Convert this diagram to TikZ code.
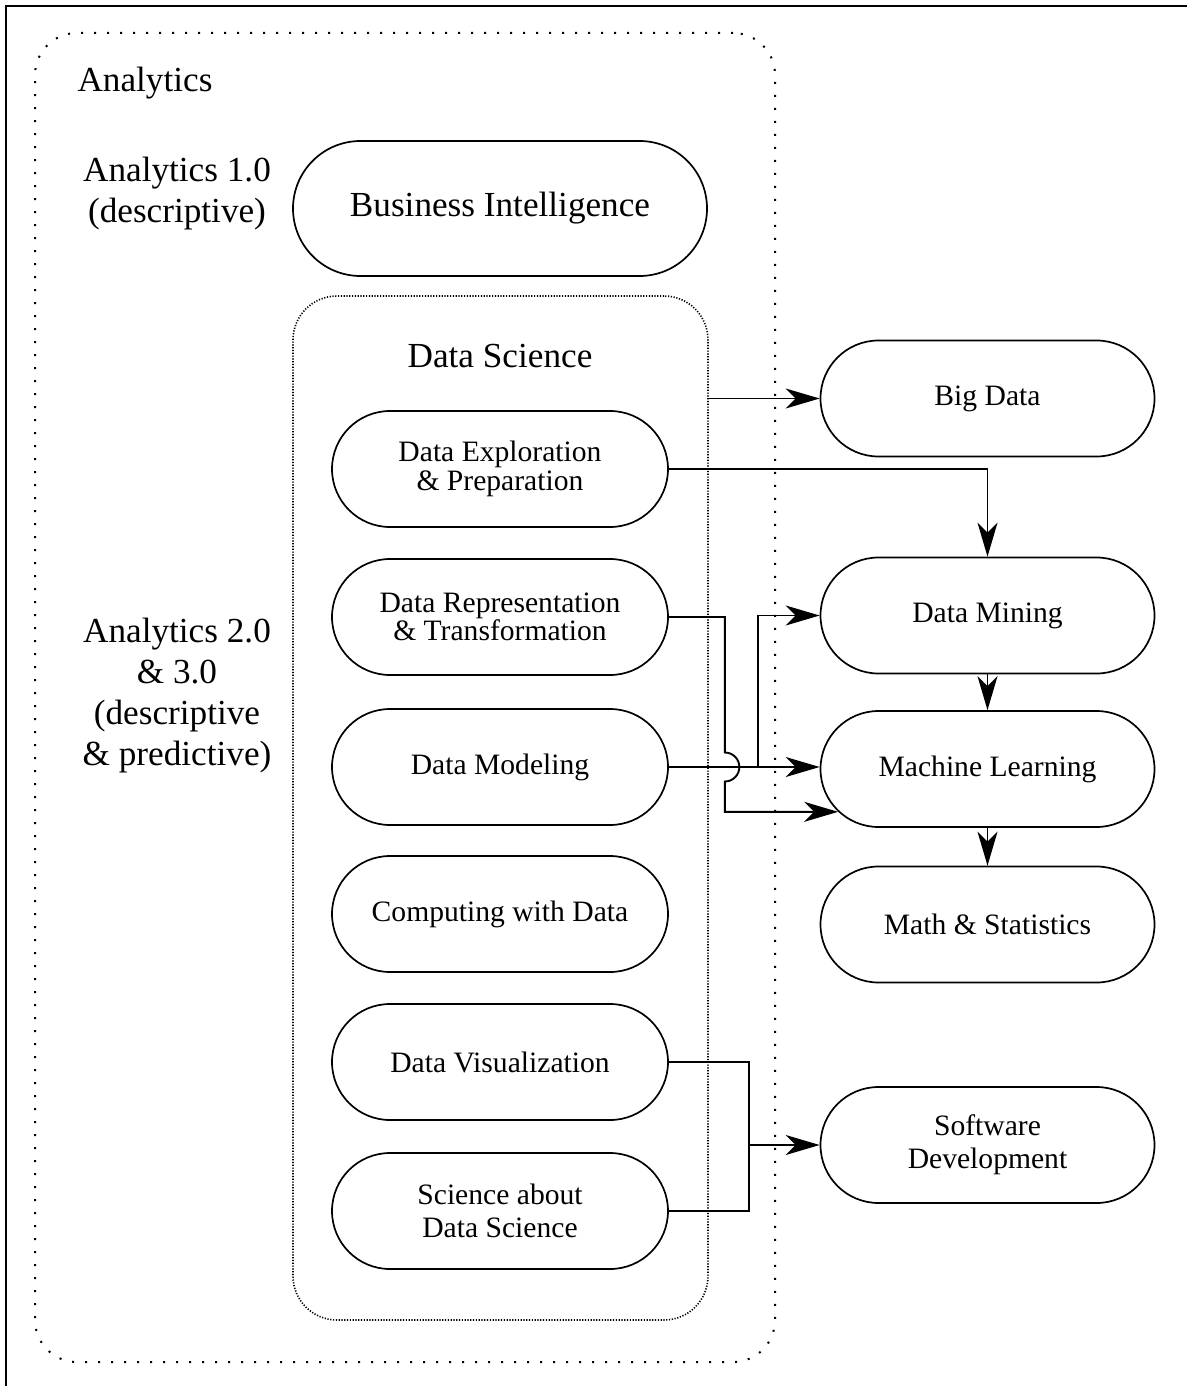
\documentclass[tikz,border=0pt]{standalone}
\usepackage{fontspec}
\setmainfont{Liberation Serif}
\usetikzlibrary{shapes.misc,arrows.meta,calc}
\begin{document}
\begin{tikzpicture}[x=0.5pt,y=-0.5pt,
  stad/.style={draw,line width=0.85pt,rounded rectangle,minimum width=168pt,minimum height=58pt,inner sep=0pt,align=center,font=\fontsize{14.8}{14.2}\selectfont},
  stadR/.style={stad,minimum width=167pt},
  big/.style={font=\fontsize{17.6}{20.5}\selectfont,align=center,inner sep=0pt},
  conn/.style={line width=0.95pt},
  arr/.style={conn,-{Stealth[length=17pt,width=10pt,inset=5pt]}},
  frame/.style={line width=1pt},
]
\useasboundingbox (0,0) rectangle (1187,1386);
\draw[frame] (6,1400) -- (6,6) -- (1200,6);

% containers
\node[draw,line width=1pt,dash pattern=on 1pt off 5.5pt,rounded corners=21pt,minimum width=370pt,minimum height=664.5pt,inner sep=0pt] (analytics) at (405,697.5) {};
\node[draw,line width=0.8pt,dash pattern=on 0.6pt off 0.8pt,rounded corners=22pt,minimum width=207.5pt,minimum height=512pt,inner sep=0pt] (ds) at (500.5,808) {};

% labels
\node[big] (lab) at (145,83) {Analytics};
\node[big] (a1) at (177,194) {Analytics 1.0\\(descriptive)};
\node[big] (a2) at (177,696) {Analytics 2.0\\\& 3.0\\(descriptive\\\& predictive)};
\node[big] (dslab) at (500,356) {Data Science};

% nodes
\node[stad,minimum width=207pt,minimum height=67.5pt,font=\fontsize{17.6}{20}\selectfont] (bi) at (500,208.5) {Business Intelligence};
\node[stad] (de) at (500,469) {Data Exploration\\\& Preparation};
\node[stad] (dr) at (500,617) {Data Representation\\\& Transformation};
\node[stad] (dmod) at (500,767) {Data Modeling};
\node[stad] (cwd) at (500,914) {Computing with Data};
\node[stad] (dv) at (500,1062) {Data Visualization};
\node[stad,font=\fontsize{14.8}{16.5}\selectfont] (sads) at (500,1211) {Science about\\Data Science};

\node[stadR] (bd) at (987.5,398.5) {Big Data};
\node[stadR] (dm) at (987.5,615.5) {Data Mining};
\node[stadR] (ml) at (987.5,769) {Machine Learning};
\node[stadR] (ms) at (987.5,924.5) {Math \& Statistics};
\node[stadR,font=\fontsize{14.8}{16.5}\selectfont] (sd) at (987.5,1145) {Software\\Development};

% connectors
\draw[arr] (ds.east |- bd.west) -- (bd.west);
\draw[arr] (de.east) -| (dm.north);
\draw[arr] (dm.south) -- (ml.north);
\draw[arr] (ml.south) -- (ms.north);

\coordinate (jt) at ($(dmod.east)+(56,-14.5)$);
\draw[arr] (dr.east) -| (jt) arc[start angle=-90,end angle=90,radius=14.5] |- (ml.196);

\draw[arr] (dmod.east) -- (dmod.east -| ml.west);
\coordinate (br) at ($(dmod.east)+(89,0)$);
\draw[arr] (br) |- (dm.west);

\coordinate (vj) at ($(dv.east)+(80,0)$);
\draw[conn] (dv.east) -- (vj) |- (sads.east);
\draw[arr] (vj |- sd.west) -- (sd.west);
\end{tikzpicture}
\end{document}
